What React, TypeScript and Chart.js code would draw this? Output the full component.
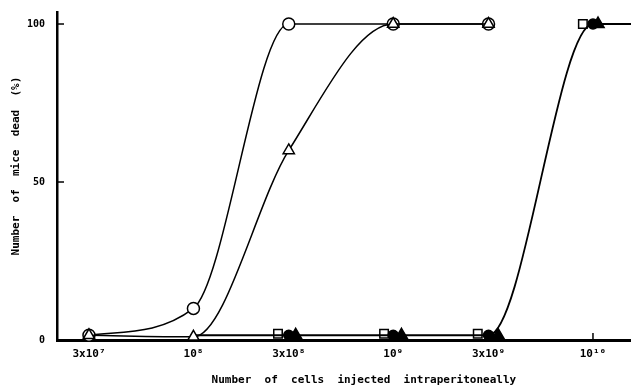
import React, { useEffect, useRef } from "react";
import { Chart, registerables } from "chart.js";

Chart.register(...registerables);

// Axis ticks
const xTickValues = [3e7, 1e8, 3e8, 1e9, 3e9, 1e10];
const xTickLabels = ["3x10⁷", "10⁸", "3x10⁸", "10⁹", "3x10⁹", "10¹⁰"];
const yTickValues = [0, 50, 100];

// Open circles
const openCircleX = [3e7, 1e8, 3e8, 1e9, 3e9];
const openCircleY = [1.5, 10, 100, 100, 100];

// Open triangles
const openTriangleX = [3e7, 1e8, 3e8, 1e9, 3e9];
const openTriangleY = [1.5, 1, 60, 100, 100];

// Open squares (plotted just left of each dose)
const openSquareX = [2.65e8, 9.0e8, 2.65e9, 8.9e9];
const openSquareY = [2, 2, 2, 100];

// Filled circles (curve carried on to the right edge)
const filledCircleX = [1e8, 3e8, 1e9, 3e9, 1e10, 1.55e10];
const filledCircleY = [1.5, 1.5, 1.5, 1.5, 100, 100];
const filledCircleRadius = [0, 5, 5, 5, 5, 0];

// Filled triangles (plotted just right of each dose)
const filledTriangleX = [3.25e8, 1.1e9, 3.35e9, 1.06e10];
const filledTriangleY = [1.5, 1.5, 1.5, 100];

const FONT = "'DejaVu Sans Mono', monospace";

const toPts = (xs: number[], ys: number[]) => xs.map((x, i) => ({ x, y: ys[i] }));

const inwardTicks = {
  id: "inwardTicks",
  beforeDatasetsDraw(chart: any) {
    const { ctx, chartArea } = chart;
    const x = chart.scales.x;
    const y = chart.scales.y;
    ctx.save();
    ctx.strokeStyle = "#000";
    ctx.lineWidth = 1.5;
    y.ticks.forEach((t: any) => {
      const py = y.getPixelForValue(t.value);
      ctx.beginPath();
      ctx.moveTo(chartArea.left, py);
      ctx.lineTo(chartArea.left + 7, py);
      ctx.stroke();
    });
    x.ticks.forEach((t: any) => {
      const px = x.getPixelForValue(t.value);
      ctx.beginPath();
      ctx.moveTo(px, chartArea.bottom);
      ctx.lineTo(px, chartArea.bottom - 7);
      ctx.stroke();
    });
    ctx.restore();
  },
};

export default function App() {
  const ref = useRef<HTMLCanvasElement | null>(null);

  useEffect(() => {
    if (!ref.current) return;
    const common = {
      borderColor: "#000",
      borderWidth: 1.5,
      pointBorderColor: "#000",
      pointBorderWidth: 1.5,
      cubicInterpolationMode: "monotone" as const,
      clip: false as any,
    };
    const chart = new Chart(ref.current, {
      type: "line",
      data: {
        datasets: [
          {
            ...common,
            label: "open triangle",
            data: toPts(openTriangleX, openTriangleY),
            pointStyle: "triangle",
            pointRadius: 6.5,
            pointBackgroundColor: "#fff",
          },
          {
            ...common,
            label: "open circle",
            data: toPts(openCircleX, openCircleY),
            pointStyle: "circle",
            pointRadius: 6,
            pointBackgroundColor: "#fff",
          },
          {
            ...common,
            label: "filled triangle",
            data: toPts(filledTriangleX, filledTriangleY),
            showLine: false,
            pointStyle: "triangle",
            pointRadius: 7,
            pointBackgroundColor: "#000",
          },
          {
            ...common,
            label: "filled circle",
            data: toPts(filledCircleX, filledCircleY),
            pointStyle: "circle",
            pointRadius: filledCircleRadius,
            pointBackgroundColor: "#000",
            borderWidth: 1.8,
          },
          {
            ...common,
            label: "open square",
            data: toPts(openSquareX, openSquareY),
            showLine: false,
            pointStyle: "rect",
            pointRadius: 6,
            pointBackgroundColor: "#fff",
          },
        ],
      },
      options: {
        animation: false,
        responsive: true,
        maintainAspectRatio: false,
        layout: { autoPadding: false, padding: { top: 12, left: 0, right: 0, bottom: 0 } },
        plugins: {
          legend: { display: false },
          tooltip: { enabled: false },
        },
        scales: {
          x: {
            type: "logarithmic",
            min: 2.075e7,
            max: 1.55e10,
            afterBuildTicks: (axis: any) => {
              axis.ticks = xTickValues.map((v) => ({ value: v }));
            },
            afterFit: (scale: any) => {
              scale.height = 50;
              scale.paddingLeft = 0;
              scale.paddingRight = 0;
            },
            grid: { display: false, drawTicks: false },
            border: { display: true, color: "#000", width: 3 },
            ticks: {
              autoSkip: false,
              maxRotation: 0,
              padding: 8,
              color: "#000",
              font: { family: FONT, size: 11, weight: "bold" },
              callback: (value: any) => {
                const i = xTickValues.indexOf(Number(value));
                return i >= 0 ? xTickLabels[i] : "";
              },
            },
            title: {
              display: true,
              text: "      Number  of  cells  injected  intraperitoneally",
              color: "#000",
              font: { family: FONT, size: 11, weight: "bold" },
              padding: { top: 0, bottom: 3 },
            },
          },
          y: {
            type: "linear",
            min: 0,
            max: 103.8,
            afterBuildTicks: (axis: any) => {
              axis.ticks = yTickValues.map((v) => ({ value: v }));
            },
            afterFit: (scale: any) => {
              scale.width = 57;
              scale.paddingTop = 0;
              scale.paddingBottom = 0;
            },
            grid: { display: false, drawTicks: false },
            border: { display: true, color: "#000", width: 2.5 },
            ticks: {
              padding: 12,
              color: "#000",
              font: { family: FONT, size: 10, weight: "bold" },
            },
            title: {
              display: true,
              text: "   Number  of  mice  dead  (%)",
              color: "#000",
              font: { family: FONT, size: 11, weight: "bold" },
              padding: { top: 10, bottom: 0 },
            },
          },
        },
      },
      plugins: [inwardTicks],
    } as any);
    return () => chart.destroy();
  }, []);

  return (
    <div style={{ position: "fixed", left: 0, top: 0, width: 631, height: 390, background: "#fff" }}>
      <canvas ref={ref} />
    </div>
  );
}
